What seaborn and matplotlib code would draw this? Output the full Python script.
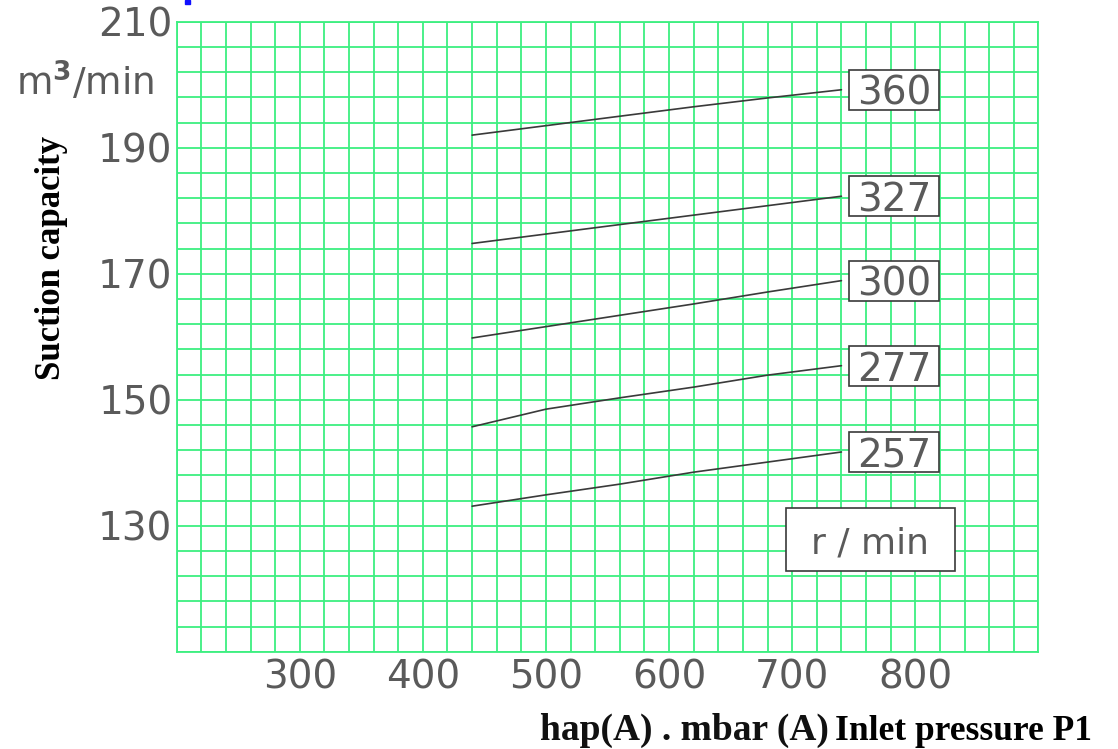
import numpy as np
import pandas as pd
import matplotlib
matplotlib.use("Agg")
import matplotlib.pyplot as plt
import matplotlib.transforms as mtransforms
from matplotlib.patches import Rectangle
import seaborn as sns

# Inlet pressure P1 (mbar abs) at which each speed curve is sampled
pressure = [440, 500, 560, 620, 680, 740]

# Suction capacity (m3/min) for each rotor speed (r/min)
speeds = ["360", "327", "300", "277", "257"]
cap_360 = [192.0, 193.5, 195.0, 196.5, 197.9, 199.2]
cap_327 = [174.8, 176.3, 177.8, 179.3, 180.8, 182.3]
cap_300 = [159.8, 161.6, 163.4, 165.2, 167.1, 168.9]
cap_277 = [145.7, 148.5, 150.3, 152.0, 153.9, 155.4]
cap_257 = [133.1, 134.9, 136.6, 138.5, 140.1, 141.7]

x_ticks = [300, 400, 500, 600, 700, 800]
y_ticks = [130, 150, 170, 190, 210]

curves = {"360": cap_360, "327": cap_327, "300": cap_300,
          "277": cap_277, "257": cap_257}
df = pd.DataFrame(
    [(sp, p, c) for sp in speeds for p, c in zip(pressure, curves[sp])],
    columns=["speed", "pressure", "capacity"],
)

sns.set_style("white")
plt.rcParams["font.family"] = ["DejaVu Sans"]

GRID = "#3def80"
INK = "#3a3a3a"
TXT = "#5a5a5a"

fig = plt.figure(figsize=(11.18, 7.49), dpi=100)
ax = fig.add_axes([0.158, 0.1299, 0.7708, 0.8411])

sns.lineplot(data=df, x="pressure", y="capacity", hue="speed",
             palette={s: INK for s in speeds}, legend=False,
             linewidth=1.2, ax=ax, zorder=3, sort=True)

ax.set_xlim(200, 900)
ax.set_ylim(110, 210)
ax.set_xticks(x_ticks)
ax.set_yticks(y_ticks)
ax.set_xticks(np.arange(200, 901, 20), minor=True)
ax.set_yticks(np.arange(110, 211, 4), minor=True)
ax.grid(which="both", color=GRID, linewidth=1.3)
ax.set_axisbelow(True)
ax.tick_params(which="both", length=0)
ax.tick_params(axis="y", pad=3, labelsize=28, labelcolor=TXT)
ax.tick_params(axis="x", pad=5, labelsize=28, labelcolor=TXT)
for lbl in ax.get_yticklabels():
    lbl.set_verticalalignment("center_baseline")
ax.set_xlabel("")
ax.set_ylabel("")
for sp in ax.spines.values():
    sp.set_color(GRID)
    sp.set_linewidth(1.3)

# Speed labels boxed at the end of each curve
box_w, box_h, gap = 0.90, 0.40, 0.08
for sp in speeds:
    xe, ye = pressure[-1], curves[sp][-1]
    trans = fig.dpi_scale_trans + mtransforms.ScaledTranslation(xe, ye, ax.transData)
    ax.add_patch(Rectangle((gap, -box_h / 2), box_w, box_h, transform=trans,
                           facecolor="white", edgecolor=INK, linewidth=1.2,
                           zorder=4, clip_on=False))
    ax.annotate(sp, xy=(xe, ye), xytext=((gap + box_w / 2) * 72, 0),
                textcoords="offset points", ha="center", va="center_baseline",
                fontsize=28, color=TXT, zorder=5)

# Unit box
ux, uy = 763.6, 127.8
trans = fig.dpi_scale_trans + mtransforms.ScaledTranslation(ux, uy, ax.transData)
ax.add_patch(Rectangle((-0.845, -0.315), 1.69, 0.63, transform=trans,
                       facecolor="white", edgecolor=INK, linewidth=1.2, zorder=4))
ax.text(ux, uy, "r / min", ha="center", va="center_baseline", fontsize=26,
        color=TXT, zorder=5)

# Axis titles
fig.text(85 / 1118, 1 - 82 / 749, r"m$^{\mathbf{3}}$/min", ha="center", va="center",
         fontsize=27, color=TXT)
fig.text(51 / 1118, 1 - 258 / 749, "Suction capacity", rotation=90,
         ha="center", va="center", fontsize=25, fontweight="bold",
         family=["Liberation Serif"], color="black")
fig.text(829 / 1118, 1 - 740 / 749, "hap(A) . mbar (A)", ha="right", va="baseline",
         fontsize=27, fontweight="bold", family=["Liberation Serif"], color="#111111")
fig.text(835 / 1118, 1 - 740 / 749, "Inlet pressure P1", ha="left", va="baseline",
         fontsize=25.5, fontweight="bold", family=["Liberation Serif"], color="black")

fig.patches.append(Rectangle((185 / 1118, 1 - 4 / 749), 5 / 1118, 4 / 749,
                             transform=fig.transFigure, color="#1010ff"))

fig.savefig("out.png", dpi=100, facecolor="white")
